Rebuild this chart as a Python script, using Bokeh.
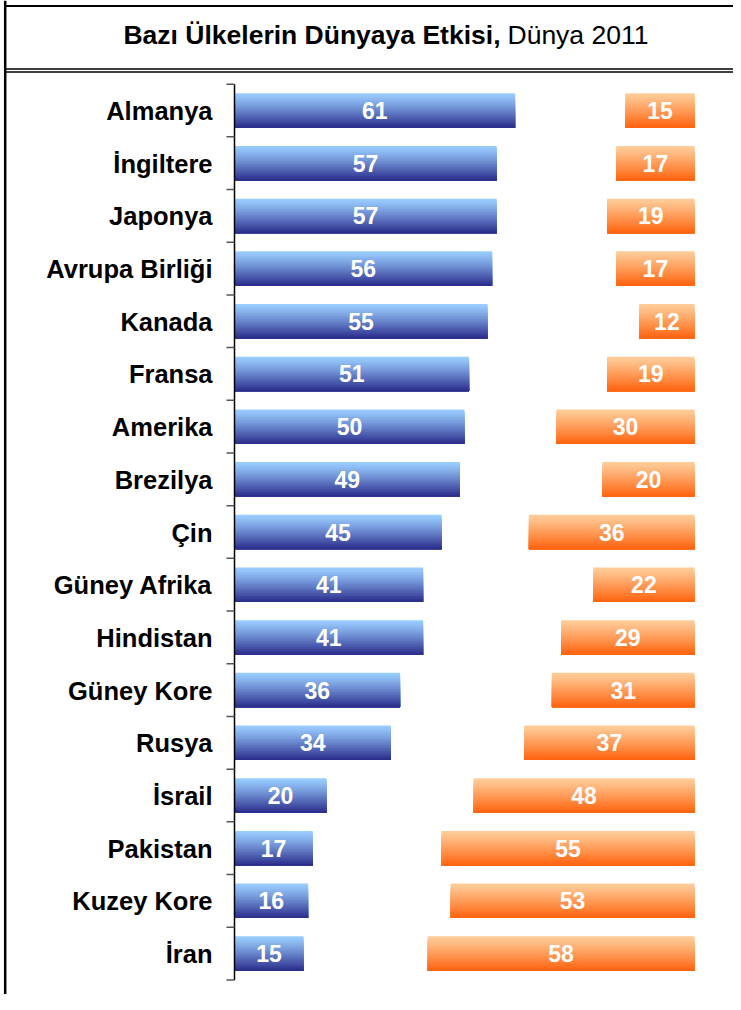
import numpy as np
from bokeh.plotting import figure
from bokeh.models import Range1d
from bokeh.embed import file_html
from bokeh.resources import INLINE
from bokeh.core.properties import value

# ---- data ----
countries = ["Almanya", "İngiltere", "Japonya", "Avrupa Birliği", "Kanada", "Fransa",
             "Amerika", "Brezilya", "Çin", "Güney Afrika", "Hindistan", "Güney Kore",
             "Rusya", "İsrail", "Pakistan", "Kuzey Kore", "İran"]
positive = [61, 57, 57, 56, 55, 51, 50, 49, 45, 41, 41, 36, 34, 20, 17, 16, 15]
negative = [15, 17, 19, 17, 12, 19, 30, 20, 36, 22, 29, 31, 37, 48, 55, 53, 58]
title_bold = "Bazı Ülkelerin Dünyaya Etkisi,"
title_normal = "Dünya 2011"

# ---- layout constants (pixels) ----
W, H = 733, 994
PX = 4.6          # px per value unit
ROW = 52.69       # px per row
X0 = 234          # x of value 0
Y0 = 110          # y of first row centre
FONT = value("Liberation Sans")

def xd(px):
    return (px - X0) / PX

def yd(py):
    return (py - Y0) / ROW

x_start, x_end = xd(0), xd(W)
y_top, y_bot = yd(0), yd(H)

p = figure(width=W, height=H, x_range=Range1d(x_start, x_end), y_range=Range1d(y_bot, y_top),
           output_backend="svg", toolbar_location=None, x_axis_type=None, y_axis_type=None,
           min_border=0, outline_line_color=None, background_fill_color="white",
           border_fill_color="white")
p.grid.visible = False

ys = np.arange(len(countries))
pos = np.array(positive, dtype=float)
neg = np.array(negative, dtype=float)
full = 100.0

# ---- gradient bars (overlapping strips, each running to the bar bottom) ----
BH = 34.5 / ROW
n = 23
sh = BH / n
blue_top, blue_bot = np.array([153, 204, 255]), np.array([44, 46, 140])
or_top, or_bot = np.array([255, 204, 153]), np.array([255, 100, 16])

def mix(a, b, t):
    c = a + (b - a) * t
    return "#%02x%02x%02x" % tuple(int(round(v)) for v in c)

for k in range(n):
    t = k / (n - 1)
    yc = ys + k * sh / 2
    hh = BH - k * sh
    p.hbar(y=yc, left=0, right=pos, height=hh,
           fill_color=mix(blue_top, blue_bot, t ** 1.15), line_color=None)
    p.hbar(y=yc, left=full - neg, right=full, height=hh,
           fill_color=mix(or_top, or_bot, t ** 1.1), line_color=None)

# ---- value labels ----
p.text(x=pos / 2, y=ys, text=[str(v) for v in positive], text_align="center",
       text_baseline="middle", text_color="white", text_font=FONT,
       text_font_style="bold", text_font_size="23px")
p.text(x=full - neg / 2, y=ys, text=[str(v) for v in negative], text_align="center",
       text_baseline="middle", text_color="white", text_font=FONT,
       text_font_style="bold", text_font_size="23px")

# ---- category labels ----
p.text(x=xd(212), y=ys + 0.01, text=countries, text_align="right", text_baseline="middle",
       text_color="black", text_font=FONT, text_font_style="bold", text_font_size="25.5px")

# ---- axis line and boundary ticks ----
bounds = np.arange(len(countries) + 1) - 0.5
p.segment(x0=[0], y0=[bounds[0]], x1=[0], y1=[bounds[-1]], line_color="black", line_width=1.5)
p.segment(x0=np.full(len(bounds), -8 / PX), y0=bounds, x1=np.zeros(len(bounds)), y1=bounds,
          line_color="#555555", line_width=1.5)

# ---- frame borders ----
p.segment(x0=[xd(4.7)], y0=[y_top], x1=[xd(4.7)], y1=[y_bot],
          line_color="black", line_width=2.5)
p.segment(x0=[xd(3.5)], y0=[yd(5.5)], x1=[x_end], y1=[yd(5.5)],
          line_color="black", line_width=2)
p.segment(x0=[xd(3.5), xd(3.5)], y0=[yd(68.5), yd(71.5)], x1=[x_end, x_end],
          y1=[yd(68.5), yd(71.5)], line_color="black", line_width=1.5)

# ---- title ----
p.text(x=[xd(500)], y=[yd(34)], text=[title_bold], text_align="right", text_baseline="middle",
       text_color="black", text_font=FONT, text_font_style="bold", text_font_size="26.5px")
p.text(x=[xd(507)], y=[yd(34)], text=[title_normal], text_align="left", text_baseline="middle",
       text_color="black", text_font=FONT, text_font_style="normal", text_font_size="26.5px")

open("out.html", "w").write(file_html(p, INLINE))
